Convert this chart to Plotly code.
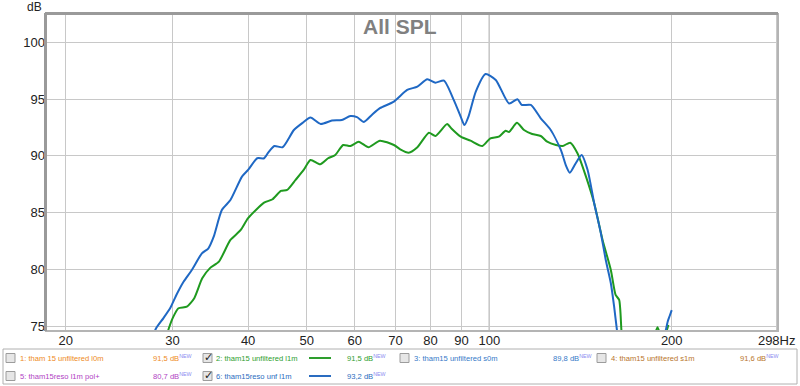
import math
import plotly.graph_objects as go

# ---------------- data ----------------
blue_freq = [27.8, 28.2, 29.0, 29.74, 30.5, 31.3, 32.3, 33.56, 34.4, 35.1, 36.2, 37.4, 39.08, 40.0,
             41.4, 42.5, 43.2, 44.2, 45.6, 47.6, 49.2, 50.7, 52.7, 55.0, 57.1, 59.0, 60.5, 62.1,
             64.0, 66.0, 69.6, 73.2, 76.1, 79.0, 81.5, 84.2, 87.4, 89.7, 91.0, 92.4, 95.0, 98.6,
             102.5, 107.8, 111.3, 113.1, 117.1, 121.6, 126.3, 131.3, 133.9, 135.8, 138.9, 142.0,
             145.3, 149.0, 152.8, 155.7, 158.7, 160.7, 162.4, 163.5,
             None, 194.0, 195.5, 197.0, 198.5, 200.0]
blue_db = [74.0, 74.8, 75.7, 76.56, 77.8, 78.9, 79.94, 81.4, 81.85, 82.87, 85.22, 86.1, 88.16, 88.75,
           89.78, 89.78, 90.3, 90.86, 90.75, 92.27, 92.9, 93.36, 92.8, 93.1, 93.15, 93.5, 93.4, 92.98,
           93.6, 94.19, 94.77, 95.8, 96.09, 96.74, 96.44, 96.62, 94.9, 93.45, 92.7, 93.45, 95.65, 97.2,
           96.68, 94.6, 94.98, 94.48, 94.48, 93.3, 92.27, 90.5, 89.1, 88.5, 89.34, 90.07,
           88.75, 85.8, 83.17, 80.8, 78.77, 76.7, 74.65, 73.5,
           None, 73.8, 74.6, 75.4, 75.9, 76.4]

green_freq = [29.3, 29.6, 30.1, 30.7, 31.7, 32.6, 33.6, 34.6, 35.8, 37.4, 38.9, 40.0, 42.5, 43.9,
              45.3, 46.4, 47.9, 49.4, 50.7, 52.6, 54.2, 55.7, 57.4, 59.0, 60.9, 63.2, 66.0, 69.6,
              71.3, 73.6, 76.1, 79.5, 81.5, 85.2, 86.6, 89.7, 93.1, 97.4, 100.4, 103.7, 106.4, 107.8,
              111.1, 114.1, 117.7, 121.6, 124.6, 128.8, 132.2, 136.0, 139.8, 144.4, 149.0, 153.8,
              158.7, 161.6, 163.8, 165.2, 166.0,
              None, 187.5, 189.5, 191.5, None, 195.5, 197.5]
green_db = [74.0, 74.8, 75.8, 76.56, 76.7, 77.45, 79.2, 80.1, 80.67, 82.58, 83.46, 84.5, 85.87, 86.17,
            86.9, 86.99, 87.87, 88.75, 89.63, 89.25, 89.78, 90.07, 90.95, 90.86, 91.24, 90.75, 91.33, 90.95,
            90.57, 90.27, 90.75, 92.03, 91.74, 92.8, 92.4, 91.68, 91.33, 90.86, 91.54, 91.68, 92.2, 92.1,
            92.9, 92.27, 91.92, 91.74, 91.24, 90.95, 90.86, 91.15, 90.22, 88.16, 85.8, 82.58,
            79.94, 77.74, 77.3, 74.65, 73.5,
            None, 74.2, 74.9, 74.2, None, 74.3, 75.1]

x_tick_vals = [20, 30, 40, 50, 60, 70, 80, 90, 100, 200, 298]
x_tick_text = ["20", "30", "40", "50", "60", "70", "80", "90", "100", "200", "298Hz"]
y_tick_vals = [75, 80, 85, 90, 95, 100]

legend_labels = ["1: tham 15 unfiltered l0m", "2: tham15 unfiltered l1m", "3: tham15 unfiltered s0m",
                 "4: tham15 unfiltered s1m", "5: tham15reso l1m pol+", "6: tham15reso unf l1m"]
legend_values = ["91,5 dB", "91,5 dB", "89,8 dB", "91,6 dB", "80,7 dB", "93,2 dB"]
legend_checked = [False, True, False, False, False, True]

# ---------------- styling / layout ----------------
W, H = 800, 386
L, R, T, B = 46, 778, 14, 331

def px(x):
    return (x - L) / (R - L)

def py(y):
    return (B - y) / (B - T)

BLUE = "#1f68c4"
GREEN = "#1f9a1f"
legend_colors = ["#ee8a22", "#2e9e2e", "#3579c8", "#b8742a", "#b13fc4", "#2a6cc0"]
# (col, row) placement of each legend entry
legend_slots = [(0, 0), (1, 0), (2, 0), (3, 0), (0, 1), (1, 1)]
col_box_x = [6, 203, 400, 597]
col_label_x = [18, 214, 412, 609]
col_value_x = [151, 345, 551, 738]
row_y = [358, 376]
LEG_FONT = 7.6

fig = go.Figure()
fig.add_trace(go.Scatter(x=green_freq, y=green_db, mode="lines", connectgaps=False,
                         line=dict(color=GREEN, width=2, shape="spline", smoothing=0.6),
                         hoverinfo="skip", showlegend=False))
fig.add_trace(go.Scatter(x=blue_freq, y=blue_db, mode="lines", connectgaps=False,
                         line=dict(color=BLUE, width=2, shape="spline", smoothing=0.6),
                         hoverinfo="skip", showlegend=False))

shapes = []
annotations = []

# darker 100 Hz grid line
shapes.append(dict(type="line", xref="x", yref="paper", x0=100, x1=100, y0=0, y1=1,
                   line=dict(color="#707070", width=1), layer="below"))
# plot frame
shapes.append(dict(type="rect", xref="paper", yref="paper", x0=0, x1=1, y0=0, y1=1,
                   line=dict(color="#b4b4b4", width=2)))
shapes.append(dict(type="line", xref="paper", yref="paper", x0=px(L - 0.5), x1=px(L - 0.5), y0=0, y1=py(T - 1),
                   line=dict(color="#9a9a9a", width=3)))
shapes.append(dict(type="line", xref="paper", yref="paper", x0=px(L - 1), x1=1, y0=py(T - 0.5), y1=py(T - 0.5),
                   line=dict(color="#9a9a9a", width=3)))

# legend box
shapes.append(dict(type="rect", xref="paper", yref="paper", x0=px(3), x1=px(797), y0=py(384), y1=py(349),
                   line=dict(color="#b0b0b0", width=1), fillcolor="white"))

for i, (c, r) in enumerate(legend_slots):
    yy = row_y[r]
    bx = col_box_x[c]
    shapes.append(dict(type="rect", xref="paper", yref="paper",
                       x0=px(bx), x1=px(bx + 9), y0=py(yy + 4.5), y1=py(yy - 4.5),
                       line=dict(color="#9c9c9c", width=1), fillcolor="#e6e6e6"))
    if legend_checked[i]:
        annotations.append(dict(xref="paper", yref="paper", x=px(bx + 5), y=py(yy - 1), text="✓",
                                showarrow=False, font=dict(family="DejaVu Sans", size=11, color="#222"),
                                xanchor="center", yanchor="middle"))
    annotations.append(dict(xref="paper", yref="paper", x=px(col_label_x[c]), y=py(yy), text=legend_labels[i],
                            showarrow=False, font=dict(family="Liberation Sans", size=LEG_FONT, color=legend_colors[i]),
                            xanchor="left", yanchor="middle"))
    annotations.append(dict(xref="paper", yref="paper", x=px(col_value_x[c]), y=py(yy),
                            text=legend_values[i] + "<sup><span style='color:#8c8cf0'>NEW</span></sup>",
                            showarrow=False, font=dict(family="Liberation Sans", size=LEG_FONT, color=legend_colors[i]),
                            xanchor="left", yanchor="middle"))
    if legend_checked[i]:
        shapes.append(dict(type="line", xref="paper", yref="paper", x0=px(309), x1=px(331),
                           y0=py(yy), y1=py(yy), line=dict(color=legend_colors[i], width=2)))

# title inside plot
annotations.append(dict(xref="paper", yref="paper", x=px(400), y=py(27), text="<b>All SPL</b>",
                        showarrow=False, font=dict(family="Liberation Sans", size=21, color="#808080"),
                        xanchor="center", yanchor="middle"))
# dB unit label
annotations.append(dict(xref="paper", yref="paper", x=px(34), y=py(7), text="dB",
                        showarrow=False, font=dict(family="Liberation Sans", size=12, color="#222"),
                        xanchor="center", yanchor="middle"))

fig.update_layout(
    width=W, height=H,
    margin=dict(l=L, r=W - R, t=T, b=H - B, pad=0, autoexpand=False),
    paper_bgcolor="white", plot_bgcolor="white",
    shapes=shapes, annotations=annotations,
    showlegend=False,
    xaxis=dict(type="log", range=[math.log10(18.56), math.log10(299.5)], automargin=False,
               tickvals=x_tick_vals, ticktext=x_tick_text, showgrid=True,
               gridcolor="#c8c8c8", gridwidth=1, zeroline=False, showline=False, ticks="",
               tickfont=dict(family="Liberation Sans", size=13, color="#222")),
    yaxis=dict(range=[74.56, 102.49], tickvals=y_tick_vals, showgrid=True, automargin=False,
               gridcolor="#c8c8c8", gridwidth=1, zeroline=False, showline=False, ticks="",
               tickfont=dict(family="Liberation Sans", size=13, color="#222")),
)

fig.write_html("out.html", config={"displayModeBar": False},
               post_script="document.body.style.margin='0';document.body.style.overflow='hidden';")
